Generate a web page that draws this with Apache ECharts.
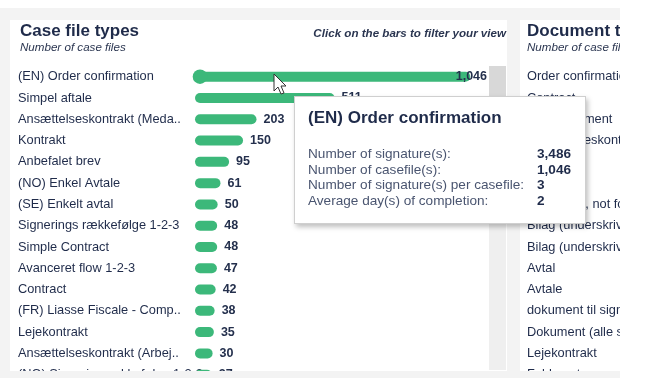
<!DOCTYPE html>
<html>
<head>
<meta charset="utf-8">
<script src="https://cdn.jsdelivr.net/npm/echarts@6/dist/echarts.min.js"></script>
<style>
  html, body { margin: 0; padding: 0; background: #ffffff; }
  #chart { position: absolute; left: 0; top: 0; width: 620px; height: 386px; }
</style>
</head>
<body>
<div id="chart"></div>
<script>
// ---- data ----
const categories = [
  "(EN) Order confirmation",
  "Simpel aftale",
  "Ansættelseskontrakt (Meda..",
  "Kontrakt",
  "Anbefalet brev",
  "(NO) Enkel Avtale",
  "(SE) Enkelt avtal",
  "Signerings rækkefølge 1-2-3",
  "Simple Contract",
  "Avanceret flow 1-2-3",
  "Contract",
  "(FR) Liasse Fiscale - Comp..",
  "Lejekontrakt",
  "Ansættelseskontrakt (Arbej..",
  "(NO) Signeringsrekkefølge 1-2-3"
];
const caseFiles = [1046, 511, 203, 150, 95, 61, 50, 48, 48, 47, 42, 38, 35, 30, 27];

const docCategories = [
  "Order confirmation",
  "Contract",
  "PDF dokument",
  "Ansættelseskontrakt",
  "Aftale",
  "Kontrakt",
  "Document, not for signing",
  "Bilag (underskrives)",
  "Bilag (underskrives ikke)",
  "Avtal",
  "Avtale",
  "dokument til signering",
  "Dokument (alle skal signere)",
  "Lejekontrakt",
  "Fuldmagt"
];

const tipLabels = [
  "Number of signature(s):",
  "Number of casefile(s):",
  "Number of signature(s) per casefile:",
  "Average day(s) of completion:"
];
const tipSignatures = [3486];
const tipPerCase = [3];
const tipAvgDays = [2];

// ---- styles ----
const GREEN = '#3cb87a';
const NAVY = '#1f2b4a';
const FONT = '"Liberation Sans", Arial, Helvetica, sans-serif';
const fmt = v => v.toLocaleString('en-US');
const LABEL_LIMIT = 487;
const VAL_FONT = 'bold 12.5px ' + FONT;

const chart = echarts.init(document.getElementById('chart'), null, { renderer: 'canvas' });

const data = caseFiles.map((v, i) => [v, i]);

const option = {
  animation: false,
  backgroundColor: '#ffffff',
  textStyle: { fontFamily: FONT },
  tooltip: {
    trigger: 'item',
    triggerOn: 'none',
    alwaysShowContent: true,
    position: [294, 96],
    transitionDuration: 0,
    padding: 0,
    backgroundColor: '#ffffff',
    borderColor: '#cfcfcf',
    borderWidth: 1,
    extraCssText: 'border-radius:0;box-shadow:2px 3px 5px rgba(0,0,0,0.25);',
    formatter: function (p) {
      const i = p.dataIndex;
      const vals = [fmt(tipSignatures[i]), fmt(caseFiles[i]), String(tipPerCase[i]), String(tipAvgDays[i])];
      let rows = '';
      for (let k = 0; k < tipLabels.length; k++) {
        rows += '<tr><td style="padding:0;width:229px;color:#4a5570;font-weight:normal;white-space:nowrap;">' + tipLabels[k] +
          '</td><td style="padding:0;color:' + NAVY + ';font-weight:bold;">' + vals[k] + '</td></tr>';
      }
      return '<div style="box-sizing:border-box;width:290px;height:126px;padding:10px 13px;font-family:' + FONT.replace(/"/g, "'") + ';">' +
        '<div style="font-size:17px;font-weight:bold;color:' + NAVY + ';line-height:22px;white-space:nowrap;">' + categories[i] + '</div>' +
        '<table style="border-collapse:collapse;margin-top:17px;font-size:13.6px;line-height:15.6px;">' + rows + '</table></div>';
    }
  },
  graphic: [
    // page background and panels
    { type: 'rect', z: -10, shape: { x: 0, y: 8, width: 620, height: 370 }, style: { fill: '#f3f3f3' } },
    { type: 'rect', z: -9, shape: { x: 10, y: 20, width: 500, height: 351 }, style: { fill: '#ffffff' } },
    { type: 'rect', z: -9, shape: { x: 520, y: 20, width: 120, height: 351 }, style: { fill: '#ffffff' } },
    // scrollbar
    { type: 'rect', z: -8, shape: { x: 489, y: 66, width: 17, height: 304 }, style: { fill: '#efefef' } },
    { type: 'rect', z: -8, shape: { x: 489, y: 66, width: 17, height: 100 }, style: { fill: '#d8d8d8' } },
    // titles
    { type: 'text', z: 10, style: { x: 20, y: 31, text: 'Case file types', font: 'bold 17px ' + FONT, fill: NAVY, verticalAlign: 'middle' } },
    { type: 'text', z: 10, style: { x: 20, y: 48, text: 'Number of case files', font: 'italic 11.6px ' + FONT, fill: '#2a3550', verticalAlign: 'middle' } },
    { type: 'text', z: 10, style: { x: 506, y: 34, text: 'Click on the bars to filter your view', font: 'italic bold 11.6px ' + FONT, fill: '#2a3550', align: 'right', verticalAlign: 'middle' } },
    { type: 'text', z: 10, style: { x: 527, y: 31, text: 'Document types', font: 'bold 17px ' + FONT, fill: NAVY, verticalAlign: 'middle' } },
    { type: 'text', z: 10, style: { x: 527, y: 48, text: 'Number of case files', font: 'italic 11.6px ' + FONT, fill: '#2a3550', verticalAlign: 'middle' } },
    // bottom edge covering the partly hidden last row
    { type: 'rect', z: 100, shape: { x: 0, y: 371, width: 620, height: 7 }, style: { fill: '#f3f3f3' } },
    { type: 'rect', z: 100, shape: { x: 0, y: 378, width: 620, height: 8 }, style: { fill: '#ffffff' } },
    { type: 'rect', z: 100, shape: { x: 507, y: 20, width: 13, height: 358 }, style: { fill: '#f3f3f3' } },
    // hover dot on the first bar
    { type: 'circle', z: 50, shape: { cx: 200, cy: 76.7, r: 7.3 }, style: { fill: GREEN } },
    // mouse cursor
    { type: 'polygon', z: 60, x: 274, y: 74,
      shape: { points: [[0, 0], [0, 17], [4, 13], [7, 20], [10, 19], [7, 12], [12, 12]] },
      style: { fill: '#ffffff', stroke: '#333333', lineWidth: 1 } }
  ],
  grid: [
    { left: 200, top: 66.1, width: 279, height: 319.2, containLabel: false },
    { left: 660, top: 66.1, width: 200, height: 319.2, containLabel: false }
  ],
  xAxis: [
    { gridIndex: 0, type: 'value', min: 0, max: 1100, show: false },
    { gridIndex: 1, type: 'value', min: 0, max: 100, show: false }
  ],
  yAxis: [
    {
      gridIndex: 0, type: 'category', data: categories, inverse: true,
      axisLine: { show: false }, axisTick: { show: false }, splitLine: { show: false },
      axisLabel: { align: 'left', margin: 182, fontSize: 12.8, color: NAVY, fontFamily: FONT }
    },
    {
      gridIndex: 1, type: 'category', data: docCategories, inverse: true,
      axisLine: { show: false }, axisTick: { show: false }, splitLine: { show: false },
      axisLabel: { align: 'left', margin: 133, fontSize: 12.8, color: NAVY, fontFamily: FONT }
    }
  ],
  series: [
    {
      type: 'custom',
      xAxisIndex: 0, yAxisIndex: 0,
      data: data,
      encode: { x: 0, y: 1 },
      clip: false,
      renderItem: function (params, api) {
        const v = api.value(0);
        const idx = api.value(1);
        const p0 = api.coord([0, idx]);
        const p1 = api.coord([v, idx]);
        const h = 10;
        const barRight = p1[0] + 5;
        const label = fmt(v);
        const tw = echarts.format.getTextRect ? echarts.format.getTextRect(label, VAL_FONT).width : label.length * 7;
        let tx = barRight + 7;
        let align = 'left';
        if (tx + tw > LABEL_LIMIT) { tx = LABEL_LIMIT; align = 'right'; }
        return {
          type: 'group',
          children: [
            { type: 'rect', shape: { x: p0[0] - 5, y: p0[1] - h / 2, width: p1[0] - p0[0] + 10, height: h, r: h / 2 },
              style: { fill: GREEN } },
            { type: 'text', z2: 10, style: { x: tx, y: p0[1], text: label, align: align, verticalAlign: 'middle',
              font: VAL_FONT, fill: '#24304d' } }
          ]
        };
      }
    }
  ]
};

chart.setOption(option);
chart.dispatchAction({ type: 'showTip', seriesIndex: 0, dataIndex: 0 });
</script>
</body>
</html>
